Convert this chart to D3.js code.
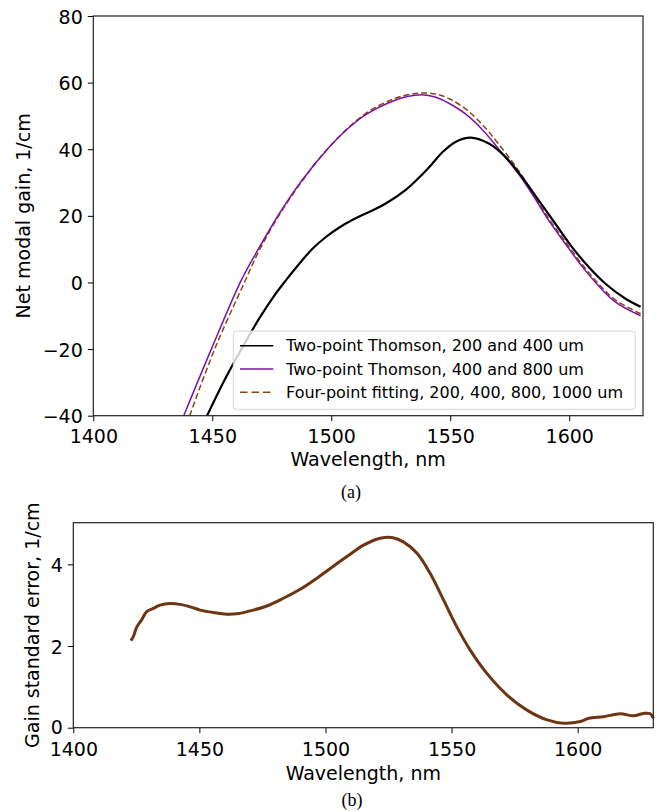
<!DOCTYPE html>
<html>
<head>
<meta charset="utf-8">
<script src="https://cdn.jsdelivr.net/npm/d3@7"></script>
<style>
  body { margin: 0; background: #fff; }
  text { font-family: "DejaVu Sans", sans-serif; fill: #000; }
  .tick text { font-size: 19px; }
  .domain { display: none; }
  .caption { font-family: "Liberation Serif", "DejaVu Serif", serif; font-size: 18px; }
</style>
</head>
<body>
<div id="chart"></div>
<script>
// Net modal gain (a) and its standard error (b) vs wavelength

// (a) Two-point Thomson, 200 and 400 um
const blackWl = [1447.8, 1455, 1462.8, 1470, 1476, 1481, 1487, 1492.2, 1498,
  1503.4, 1509, 1514.5, 1522.9, 1531.3, 1536.9, 1542, 1547, 1552.2, 1558.5,
  1566.2, 1573.2, 1580.1, 1587.1, 1594.1, 1601.1, 1608.1, 1615.1, 1623.5, 1630]
const blackGain = [-40, -29.5, -19.3, -10.5, -4, 0.7, 6, 10.2, 13.8,
  16.5, 18.8, 20.7, 23.7, 27.8, 31.5, 35.3, 39.3, 42.2, 43.5,
  41.7, 37.7, 31.7, 24.7, 17.7, 10.7, 4.7, -0.3, -4.8, -7.3]

// (a) Two-point Thomson, 400 and 800 um
const purpleWl = [1438, 1449.6, 1462.2, 1469.1, 1478.2, 1487.7, 1499.2, 1506.2, 1514.5,
  1527.1, 1532, 1538, 1544, 1549.4, 1556.4, 1564, 1570.4, 1578.8, 1584.3, 1591.3,
  1598.3, 1605.3, 1612.3, 1619.3, 1630]
const purpleGain = [-40, -20, 0.7, 9.7, 20.7, 30.7, 40.7, 45.7, 50.4,
  54.8, 55.8, 56.35, 55.6, 53.8, 50.6, 45.5, 40, 32.5, 26.7, 18.7,
  11.7, 4.9, -1, -5.8, -10]

// (a) Four-point fitting, 200, 400, 800, 1000 um
const fitWl = [1440.5, 1451, 1463.5, 1470, 1478.5, 1488, 1499.2, 1514.5, 1527,
  1534, 1540, 1545.5, 1550, 1557, 1564, 1570.4, 1578.8, 1584.3, 1591.3, 1598.3,
  1605.3, 1612.3, 1619.3, 1630]
const fitGain = [-40, -20, 0, 10, 20.7, 30.7, 40.7, 50.8, 55.3,
  56.6, 56.9, 56.3, 55, 51.8, 47, 41.5, 33.5, 27.3, 19.3, 12.3,
  5.5, -0.4, -5.2, -9.4]

// (b) gain standard error
const errWl = [1422.8, 1423.8, 1425.2, 1427.1, 1429.1, 1431.7, 1434.4, 1438.4, 1442.3,
  1446.3, 1450.3, 1455.6, 1460.9, 1464.8, 1471.4, 1476.7, 1483.3, 1490, 1496.6,
  1501.9, 1508.5, 1515.1, 1521.7, 1526.3, 1530.9, 1536.3, 1541.5, 1546.8, 1552.1,
  1557.4, 1564, 1572, 1579.9, 1587.9, 1594.4, 1601.1, 1604.4, 1610.3, 1616.9,
  1622.2, 1626.2, 1628.8, 1630]
const errValue = [2.13, 2.23, 2.47, 2.64, 2.84, 2.92, 3.0, 3.04, 3.02,
  2.96, 2.88, 2.82, 2.78, 2.79, 2.88, 2.98, 3.17, 3.39, 3.66,
  3.9, 4.19, 4.47, 4.64, 4.66, 4.55, 4.27, 3.78, 3.13, 2.47,
  1.9, 1.33, 0.8, 0.43, 0.19, 0.11, 0.15, 0.23, 0.27, 0.34,
  0.29, 0.35, 0.34, 0.23]

const xTicks = [1400, 1450, 1500, 1550, 1600]
const gainTicks = [-40, -20, 0, 20, 40, 60, 80]
const errTicks = [0, 2, 4]

const legendLabels = ["Two-point Thomson, 200 and 400 um",
  "Two-point Thomson, 400 and 800 um",
  "Four-point fitting, 200, 400, 800, 1000 um"]

const WIDTH = 658
const HEIGHT = 812
const TICK = 5.5

const svg = d3.select("#chart").append("svg")
  .attr("width", WIDTH)
  .attr("height", HEIGHT)

const zip = (xs, ys) => xs.map((x, i) => [x, ys[i]])
const minus = d => d < 0 ? "\u2212" + (-d) : String(d)

// PANEL A
const A = {left: 93.3, right: 643, top: 16, bottom: 415.7}
const xA = d3.scaleLinear().domain([1400, 1631]).range([A.left, A.right])
const yA = d3.scaleLinear().domain([-40, 80]).range([A.bottom, A.top])

svg.append("clipPath").attr("id", "clipA")
  .append("rect")
    .attr("x", A.left).attr("y", A.top)
    .attr("width", A.right - A.left).attr("height", A.bottom - A.top)

const lineA = d3.line().x(d => xA(d[0])).y(d => yA(d[1]))
  .curve(d3.curveCatmullRom.alpha(0.5))

const series = [
  {pts: zip(blackWl, blackGain), color: "#000", width: 2.2, dash: null},
  {pts: zip(purpleWl, purpleGain), color: "#7d12a6", width: 1.5, dash: null},
  {pts: zip(fitWl, fitGain), color: "#8b4513", width: 1.5, dash: "6,3"}
]

const gA = svg.append("g").attr("clip-path", "url(#clipA)")
// dashed fit under the purple one, black on top
for (const s of [series[2], series[1], series[0]]) {
  gA.append("path")
    .attr("d", lineA(s.pts))
    .attr("fill", "none")
    .attr("stroke", s.color)
    .attr("stroke-width", s.width)
    .attr("stroke-dasharray", s.dash)
    .attr("stroke-linejoin", "round")
}

const axA = svg.append("g")
  .attr("transform", "translate(0," + A.bottom + ")")
  .call(d3.axisBottom(xA).tickValues(xTicks).tickFormat(d3.format("d"))
    .tickSize(TICK).tickPadding(7))
axA.selectAll(".tick text").attr("dy", null).attr("dominant-baseline", "hanging")
const ayA = svg.append("g")
  .attr("transform", "translate(" + A.left + ",0)")
  .call(d3.axisLeft(yA).tickValues(gainTicks).tickFormat(minus)
    .tickSize(TICK).tickPadding(5))
ayA.selectAll(".tick text").attr("dy", null).attr("dominant-baseline", "central")

svg.append("rect")
  .attr("x", A.left).attr("y", A.top)
  .attr("width", A.right - A.left).attr("height", A.bottom - A.top)
  .attr("fill", "none").attr("stroke", "#222").attr("stroke-width", 1.2)

// legend
const legend = svg.append("g")
legend.append("rect")
  .attr("x", 233.3).attr("y", 331)
  .attr("width", 402).attr("height", 78.3)
  .attr("rx", 3)
  .attr("fill", "rgba(255,255,255,0.8)")
  .attr("stroke", "#d6d6d6")
series.forEach((s, i) => {
  const y = 345.7 + i * 23.3
  legend.append("line")
    .attr("x1", 240).attr("x2", 273.3).attr("y1", y).attr("y2", y)
    .attr("stroke", s.color)
    .attr("stroke-width", i === 0 ? 1.5 : s.width)
    .attr("stroke-dasharray", s.dash ? "7.5,4" : null)
  legend.append("text")
    .attr("x", 286).attr("y", y)
    .attr("dominant-baseline", "central")
    .style("font-size", "16px")
    .text(legendLabels[i])
})

svg.append("text")
  .attr("x", (A.left + A.right) / 2).attr("y", 466)
  .attr("text-anchor", "middle")
  .style("font-size", "19px")
  .text("Wavelength, nm")
svg.append("text")
  .attr("transform", "translate(30," + (A.top + A.bottom) / 2 + ") rotate(-90)")
  .attr("text-anchor", "middle")
  .style("font-size", "19px")
  .text("Net modal gain, 1/cm")
svg.append("text")
  .attr("class", "caption")
  .attr("x", 351).attr("y", 498)
  .attr("text-anchor", "middle")
  .text("(a)")

// PANEL B
const B = {left: 73.3, right: 653.3, top: 522.7, bottom: 727.7}
const xB = d3.scaleLinear().domain([1400, 1630]).range([B.left, B.right])
const yB = d3.scaleLinear().domain([0, 5.02]).range([B.bottom, B.top])

const lineB = d3.line().x(d => xB(d[0])).y(d => yB(d[1]))
  .curve(d3.curveCatmullRom.alpha(0.5))
svg.append("path")
  .attr("d", lineB(zip(errWl, errValue)))
  .attr("fill", "none")
  .attr("stroke", "#6e3513")
  .attr("stroke-width", 3)
  .attr("stroke-linejoin", "round")

const axB = svg.append("g")
  .attr("transform", "translate(0," + B.bottom + ")")
  .call(d3.axisBottom(xB).tickValues(xTicks).tickFormat(d3.format("d"))
    .tickSize(TICK).tickPadding(8.5))
axB.selectAll(".tick text").attr("dy", null).attr("dominant-baseline", "hanging")
const ayB = svg.append("g")
  .attr("transform", "translate(" + B.left + ",0)")
  .call(d3.axisLeft(yB).tickValues(errTicks).tickFormat(d3.format("d"))
    .tickSize(TICK).tickPadding(5))
ayB.selectAll(".tick text").attr("dy", null).attr("dominant-baseline", "central")
// lift the "0" a hair so it clears the 1400 below it
ayB.selectAll(".tick text").filter(d => d === 0).attr("dy", -1.2)

svg.append("rect")
  .attr("x", B.left).attr("y", B.top)
  .attr("width", B.right - B.left).attr("height", B.bottom - B.top)
  .attr("fill", "none").attr("stroke", "#222").attr("stroke-width", 1.2)

svg.append("text")
  .attr("x", (B.left + B.right) / 2).attr("y", 780)
  .attr("text-anchor", "middle")
  .style("font-size", "19px")
  .text("Wavelength, nm")
svg.append("text")
  .attr("transform", "translate(39," + (B.top + B.bottom) / 2 + ") rotate(-90)")
  .attr("text-anchor", "middle")
  .style("font-size", "19px")
  .text("Gain standard error, 1/cm")
svg.append("text")
  .attr("class", "caption")
  .attr("x", 352).attr("y", 806)
  .attr("text-anchor", "middle")
  .text("(b)")
</script>
</body>
</html>
